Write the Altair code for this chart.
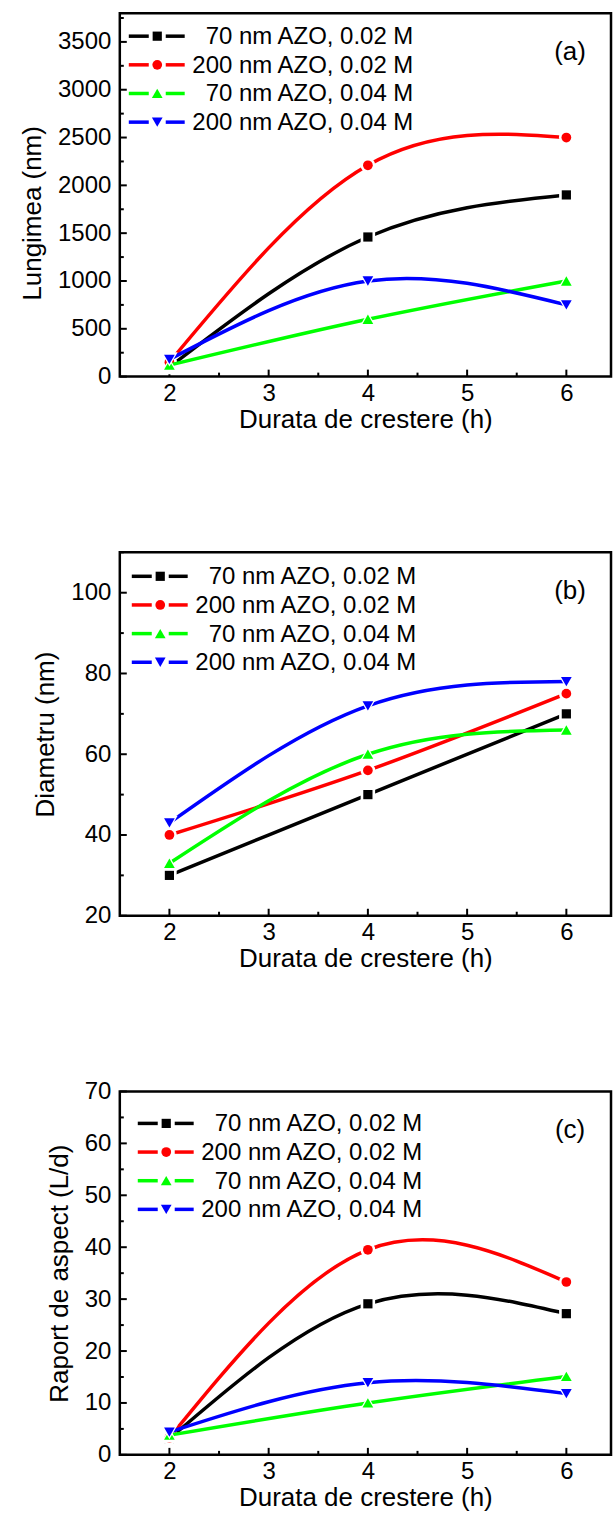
import altair as alt
import pandas as pd

# ---------------- data ----------------
hours = [2, 4, 6]
series_names = ["70 nm AZO, 0.02 M", "200 nm AZO, 0.02 M",
                "70 nm AZO, 0.04 M", "200 nm AZO, 0.04 M"]
colors = ["#000000", "#ff0000", "#00ff00", "#0000ff"]
shapes = ["square", "circle", "triangle-up", "triangle-down"]
marker_sizes = [85, 95, 115, 115]
halo_sizes = [210, 220, 270, 270]

# (a) Lungimea (nm)
length_70_002 = [100, 1460, 1900]
length_200_002 = [150, 2210, 2500]
length_70_004 = [120, 600, 1000]
length_200_004 = [180, 1000, 750]

# (b) Diametru (nm)
diam_70_002 = [30, 50, 70]
diam_200_002 = [40, 56, 75]
diam_70_004 = [33, 60, 66]
diam_200_004 = [43, 72, 78]

# (c) Raport de aspect (L/d)
ratio_70_002 = [3.1, 29.1, 27.2]
ratio_200_002 = [3.3, 39.5, 33.3]
ratio_70_004 = [3.8, 10.0, 15.1]
ratio_200_004 = [4.4, 13.9, 11.8]

x_major = [2, 3, 4, 5, 6]
x_minor = [2.5, 3.5, 4.5, 5.5]

y_a_major = [0, 500, 1000, 1500, 2000, 2500, 3000, 3500]
y_a_minor = [250, 750, 1250, 1750, 2250, 2750, 3250, 3750]
y_b_major = [20, 40, 60, 80, 100]
y_b_minor = [30, 50, 70, 90, 110]
y_c_major = [0, 10, 20, 30, 40, 50, 60, 70]
y_c_minor = [5, 15, 25, 35, 45, 55, 65]

x_title = "Durata de crestere (h)"

FONT = "Liberation Sans"
W, H = 492, 364
X_DOMAIN = [1.5, 6.45]


def panel(series_values, y_domain, y_major, y_minor, y_title, tag,
          leg_x0, leg_y0, leg_right, title_y=None):
    xs = alt.Scale(domain=X_DOMAIN, nice=False, zero=False)
    ys = alt.Scale(domain=y_domain, nice=False, zero=False)

    axis_y_kwargs = dict(values=y_major, ticks=False, domain=False, grid=False,
                         labelFont=FONT, labelFontSize=24, labelColor="black",
                         labelPadding=9, title=y_title, titleFont=FONT,
                         titleFontSize=26, titleFontWeight="normal",
                         titleColor="black", titlePadding=12, format="d")
    if title_y is not None:
        axis_y_kwargs["titleY"] = title_y
    axis_y = alt.Axis(**axis_y_kwargs)
    axis_x = alt.Axis(values=x_major, ticks=False, domain=False, grid=False,
                      labelFont=FONT, labelFontSize=24, labelColor="black",
                      labelPadding=5, title=x_title, titleFont=FONT,
                      titleFontSize=26, titleFontWeight="normal",
                      titleColor="black", titlePadding=1, format="d")

    def X(field):
        return alt.X(field, type="quantitative", scale=xs, axis=axis_x, title=x_title)

    def Y(field):
        return alt.Y(field, type="quantitative", scale=ys, axis=axis_y, title=y_title)

    layers = []
    # tick marks (inward)
    for vals, ln in ((x_major, 7), (x_minor, 4)):
        layers.append(
            alt.Chart(pd.DataFrame({"x": vals})).mark_rule(
                color="black", strokeWidth=2).encode(
                x=X("x"), y=alt.value(H), y2=alt.value(H - ln))
        )
    for vals, ln in ((y_major, 7), (y_minor, 4)):
        vv = [v for v in vals if y_domain[0] <= v <= y_domain[1]]
        layers.append(
            alt.Chart(pd.DataFrame({"y": vv})).mark_rule(
                color="black", strokeWidth=2).encode(
                y=Y("y"), x=alt.value(0), x2=alt.value(ln))
        )

    # series
    for i, vals in enumerate(series_values):
        df = pd.DataFrame({"x": hours, "y": vals})
        layers.append(
            alt.Chart(df).mark_line(interpolate="natural", strokeWidth=3.5,
                                    color=colors[i]).encode(x=X("x"), y=Y("y"))
        )
        layers.append(
            alt.Chart(df).mark_point(filled=True, opacity=1, size=halo_sizes[i],
                                     shape=shapes[i], color="white").encode(
                x=X("x"), y=Y("y"))
        )
        layers.append(
            alt.Chart(df).mark_point(filled=True, opacity=1, size=marker_sizes[i],
                                     shape=shapes[i], color=colors[i]).encode(
                x=X("x"), y=Y("y"))
        )

    # legend (drawn manually)
    for i, name in enumerate(series_names):
        ry = leg_y0 + i * 28.7
        one = pd.DataFrame({"label": [name]})
        layers.append(alt.Chart(one).mark_rule(color=colors[i], strokeWidth=3.5).encode(
            x=alt.value(leg_x0), x2=alt.value(leg_x0 + 20), y=alt.value(ry)))
        layers.append(alt.Chart(one).mark_rule(color=colors[i], strokeWidth=3.5).encode(
            x=alt.value(leg_x0 + 37), x2=alt.value(leg_x0 + 56), y=alt.value(ry)))
        layers.append(alt.Chart(one).mark_point(filled=True, opacity=1,
                                                size=marker_sizes[i],
                                                shape=shapes[i], color=colors[i]).encode(
            x=alt.value(leg_x0 + 28.5), y=alt.value(ry)))
        layers.append(alt.Chart(one).mark_text(align="right", baseline="middle",
                                               font=FONT, fontSize=24, color="black").encode(
            x=alt.value(leg_right), y=alt.value(ry + 1), text="label:N"))

    # panel tag
    tag_df = pd.DataFrame({"tag": [tag]})
    layers.append(alt.Chart(tag_df).mark_text(align="center", baseline="middle",
                                              font=FONT, fontSize=26, color="black").encode(
        x=alt.value(451), y=alt.value(39), text="tag:N"))

    return alt.layer(*layers).properties(width=W, height=H)


pa = panel([length_70_002, length_200_002, length_70_004, length_200_004],
           [0, 3800], y_a_major, y_a_minor, "Lungimea (nm)", "(a)",
           9, 23, 294, title_y=200)
pb = panel([diam_70_002, diam_200_002, diam_70_004, diam_200_004],
           [20, 110], y_b_major, y_b_minor, "Diametru (nm)", "(b)",
           12, 24, 297)
pc = panel([ratio_70_002, ratio_200_002, ratio_70_004, ratio_200_004],
           [0, 70], y_c_major, y_c_minor, "Raport de aspect (L/d)", "(c)",
           18, 32, 303)

chart = alt.vconcat(pa, pb, pc, spacing=176, bounds="flush").properties(
    padding={"left": 18, "top": 10, "right": 2, "bottom": 5},
    background="white"
).configure_view(stroke="black", strokeWidth=2.5)

chart.save("out.html", embed_options={"renderer": "svg", "actions": False})
